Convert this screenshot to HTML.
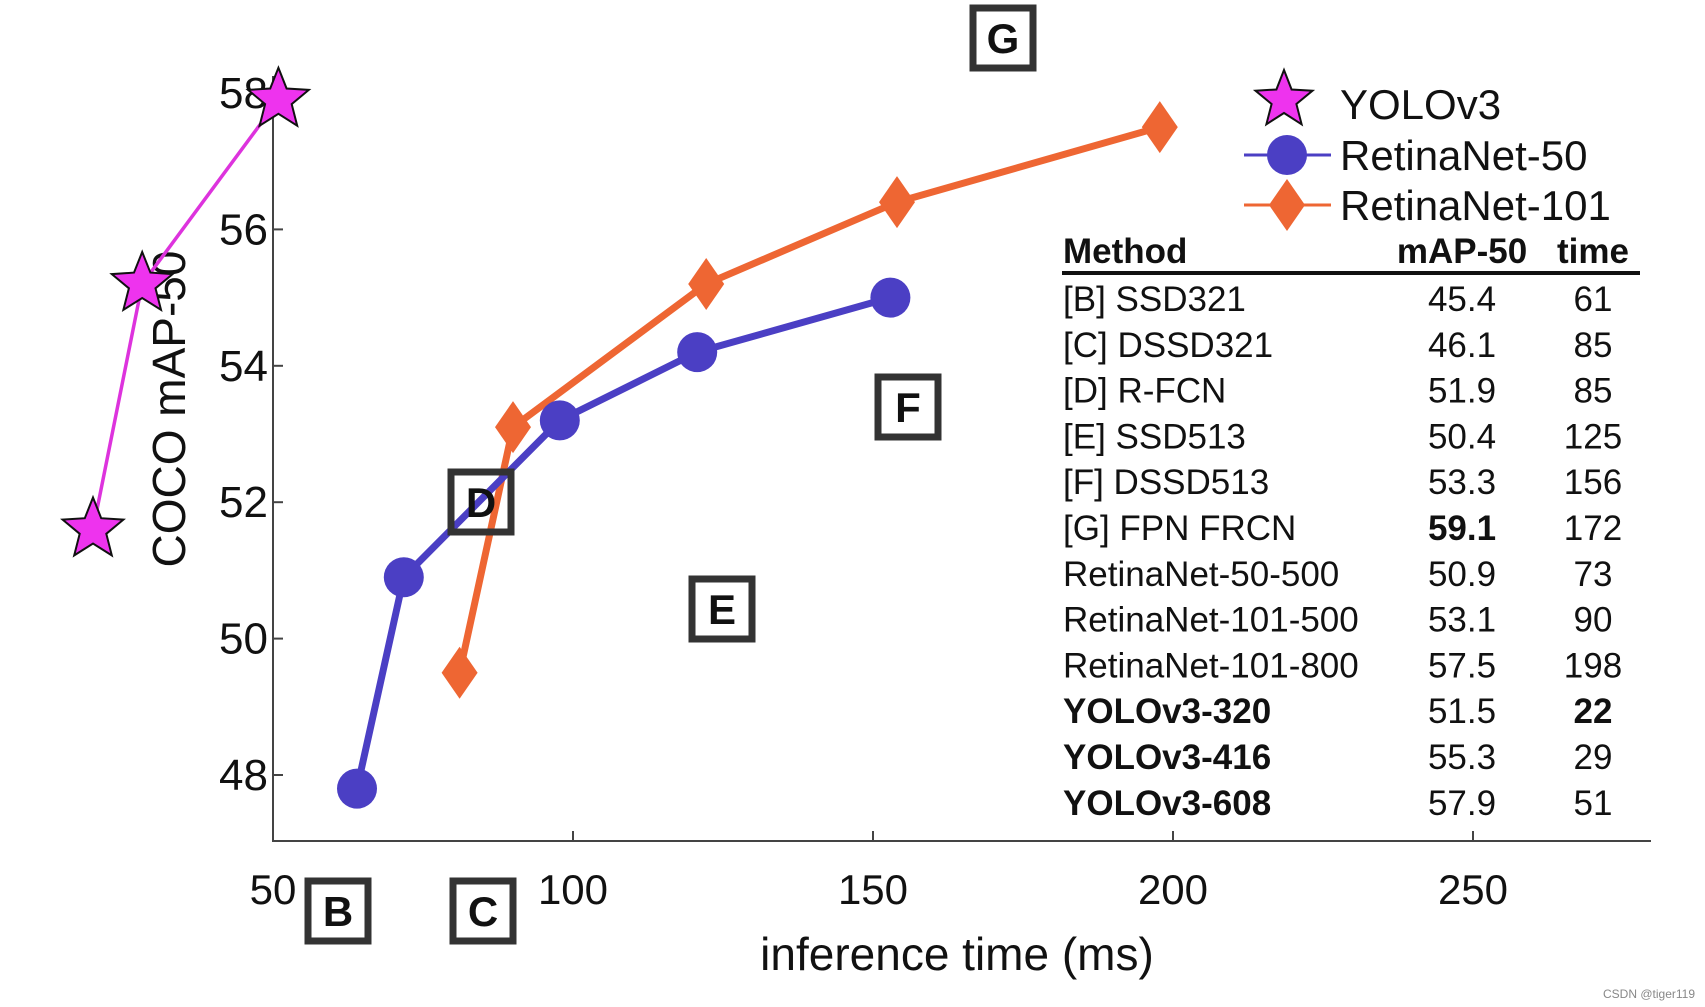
<!DOCTYPE html>
<html><head><meta charset="utf-8"><style>
html,body{margin:0;padding:0;background:#fff}
svg{display:block}
text{font-family:"Liberation Sans",Arial,sans-serif}
</style></head><body>
<svg id="c" width="1705" height="1007" viewBox="0 0 1705 1007">
<g id="axes"></g><g id="series"></g><g id="boxes"></g><g id="legend"></g><g id="table"></g>
<text x="1695" y="998" font-size="12" fill="#888" text-anchor="end">CSDN @tiger119</text>
</svg>
<script>
const xTicks=[50,100,150,200,250];
const yTicks=[48,50,52,54,56,58];
const yoloX=[20,28.2,50.9];
const yoloY=[51.6,55.2,57.9];
const r50X=[64,71.8,97.8,120.7,152.9];
const r50Y=[47.8,50.9,53.2,54.2,55.0];
const r101X=[81.1,90,122.2,154,197.8];
const r101Y=[49.5,53.1,55.2,56.4,57.5];
const boxLabels=["B","C","D","E","F","G"];
const boxX=[61,85,88,125,156,172];
const tableMethods=["[B] SSD321","[C] DSSD321","[D] R-FCN","[E] SSD513","[F] DSSD513","[G] FPN FRCN","RetinaNet-50-500","RetinaNet-101-500","RetinaNet-101-800","YOLOv3-320","YOLOv3-416","YOLOv3-608"];
const tableMap=["45.4","46.1","51.9","50.4","53.3","59.1","50.9","53.1","57.5","51.5","55.3","57.9"];
const tableTime=["61","85","85","125","156","172","73","90","198","22","29","51"];

const NS="http://www.w3.org/2000/svg";
const X=v=>273+(v-50)*6.0;
const Y=v=>775-(v-48)*68.2;
function mk(tag,attrs,parent,txt){const e=document.createElementNS(NS,tag);for(const k in attrs)e.setAttribute(k,attrs[k]);if(txt!==undefined)e.textContent=txt;parent.appendChild(e);return e;}
const axes=document.getElementById('axes'),series=document.getElementById('series'),boxes=document.getElementById('boxes'),legend=document.getElementById('legend'),table=document.getElementById('table');

let a=mk('line',{x1:273,y1:76,x2:273,y2:842,stroke:'#444','stroke-width':2},axes);


a=mk('line',{x1:272,y1:841,x2:1651,y2:841,stroke:'#444','stroke-width':2},axes);


xTicks.forEach(t=>{
  let l=mk('line',{x1:X(t),y1:841,x2:X(t),y2:831,stroke:'#444','stroke-width':2},axes);
  
  
  let tx=mk('text',{x:X(t),y:904,'font-size':42,'text-anchor':'middle',fill:'#111'},axes,t);
  
  
});
yTicks.forEach(t=>{
  let l=mk('line',{x1:273,y1:Y(t),x2:283,y2:Y(t),stroke:'#444','stroke-width':2},axes);
  
  
  let tx=mk('text',{x:268,y:Y(t)+15,'font-size':44,'text-anchor':'end',fill:'#111'},axes,t);
  
  
});
let xt=mk('text',{x:957,y:970,'font-size':46,'text-anchor':'middle',fill:'#111'},axes,'inference time (ms)');


let yt=mk('text',{x:0,y:0,'font-size':46,'text-anchor':'middle',fill:'#111',transform:'translate(185,409) rotate(-90)'},axes,'COCO mAP-50');



function starPts(cx,cy,R,r){let p=[];for(let i=0;i<10;i++){const ang=-Math.PI/2+i*Math.PI/5;const rr=i%2?r:R;p.push((cx+rr*Math.cos(ang)).toFixed(1)+','+(cy+rr*Math.sin(ang)).toFixed(1));}return p.join(' ');}
function diamond(cx,cy,w,h){return `${cx},${cy-h} ${cx+w},${cy} ${cx},${cy+h} ${cx-w},${cy}`;}

let pl=mk('polyline',{points:r101X.map((v,i)=>X(v)+','+Y(r101Y[i])).join(' '),fill:'none',stroke:'#ee6633','stroke-width':7,'stroke-linejoin':'round'},series);


r101X.forEach((v,i)=>{let m=mk('polygon',{points:diamond(X(v),Y(r101Y[i]),18,26),fill:'#ee6633'},series);

});
pl=mk('polyline',{points:r50X.map((v,i)=>X(v)+','+Y(r50Y[i])).join(' '),fill:'none',stroke:'#4b3fc4','stroke-width':7,'stroke-linejoin':'round'},series);


r50X.forEach((v,i)=>{let m=mk('circle',{cx:X(v),cy:Y(r50Y[i]),r:20,fill:'#4b3fc4'},series);

});
pl=mk('polyline',{points:yoloX.map((v,i)=>X(v)+','+Y(yoloY[i])).join(' '),fill:'none',stroke:'#dd33dd','stroke-width':3.5},series);


yoloX.forEach((v,i)=>{let m=mk('polygon',{points:starPts(X(v),Y(yoloY[i]),32,14),fill:'#ee33ee',stroke:'#111','stroke-width':2},series);

});

const boxPos={B:[338,911],C:[483,911],D:[481,502],E:[722,609],F:[908,407],G:[1003,38]};
boxLabels.forEach((b,i)=>{const [cx,cy]=boxPos[b];
  let r=mk('rect',{x:cx-30,y:cy-30,width:60,height:60,fill:b==='D'?'none':'#fff',stroke:'#333','stroke-width':7},boxes);
  
  
  let t=mk('text',{x:cx,y:cy+15,'font-size':42,'font-weight':'bold','text-anchor':'middle',fill:'#111'},boxes,b);
  
  
});

const leg=[["YOLOv3",104],["RetinaNet-50",155],["RetinaNet-101",205]];
let s=mk('polygon',{points:starPts(1284,100,30,13),fill:'#ee33ee',stroke:'#111','stroke-width':2},legend);


let l=mk('line',{x1:1244,y1:155,x2:1331,y2:155,stroke:'#4b3fc4','stroke-width':3},legend);


let c=mk('circle',{cx:1287,cy:155,r:20,fill:'#4b3fc4'},legend);


l=mk('line',{x1:1244,y1:205,x2:1331,y2:205,stroke:'#ee6633','stroke-width':3},legend);


c=mk('polygon',{points:diamond(1287,205,18,26),fill:'#ee6633'},legend);


leg.forEach(([t,y])=>{let e=mk('text',{x:1340,y:y+15,'font-size':42,fill:'#111'},legend,t);

});

const MC=1462, TC=1593;
let h=mk('text',{x:1063,y:263,'font-size':35,'font-weight':'bold',fill:'#111'},table,'Method');


h=mk('text',{x:MC,y:263,'font-size':35,'font-weight':'bold','text-anchor':'middle',fill:'#111'},table,'mAP-50');


h=mk('text',{x:TC,y:263,'font-size':35,'font-weight':'bold','text-anchor':'middle',fill:'#111'},table,'time');


h=mk('line',{x1:1062,y1:273,x2:1640,y2:273,stroke:'#111','stroke-width':4},table);


tableMethods.forEach((m,i)=>{const y=311+i*45.8;
  let e=mk('text',{x:1063,y:y,'font-size':35,'font-weight':i>=9?'bold':'normal',fill:'#111'},table,m);
  
  
  e=mk('text',{x:MC,y:y,'font-size':35,'font-weight':i===5?'bold':'normal','text-anchor':'middle',fill:'#111'},table,tableMap[i]);
  
  
  e=mk('text',{x:TC,y:y,'font-size':35,'font-weight':i===9?'bold':'normal','text-anchor':'middle',fill:'#111'},table,tableTime[i]);
  
  
});
</script>
</body></html>
